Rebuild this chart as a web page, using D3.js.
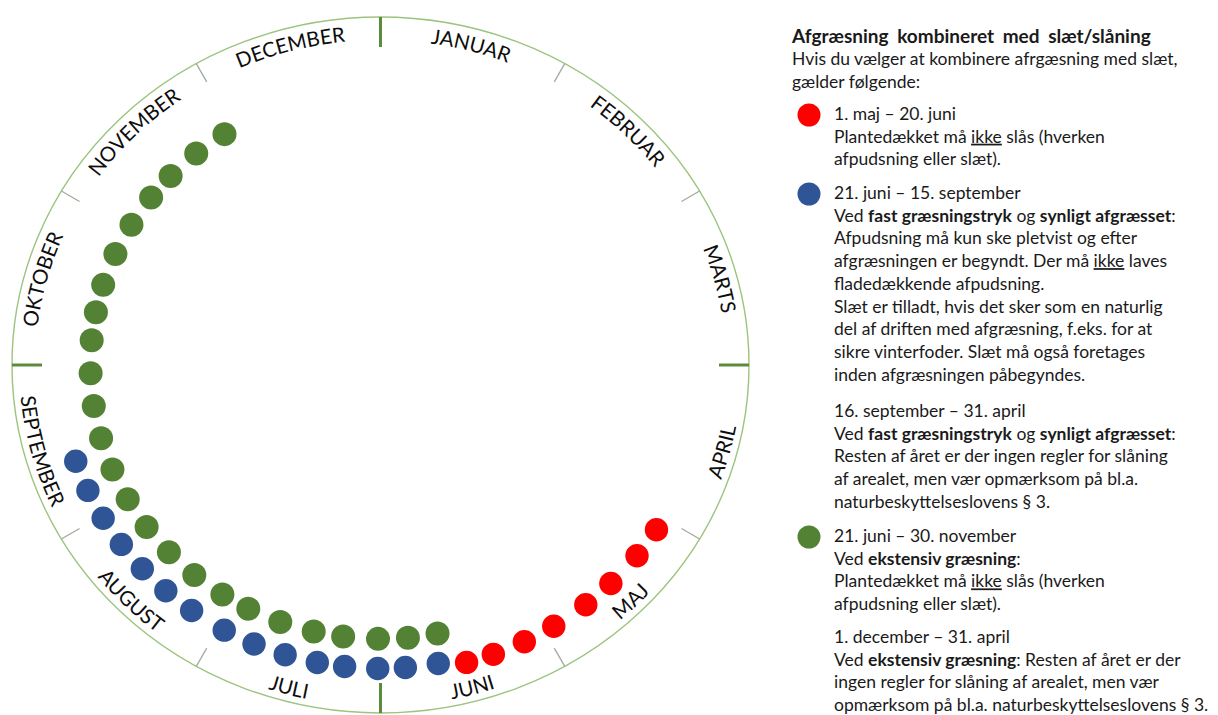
<!DOCTYPE html>
<html>
<head>
<meta charset="utf-8">
<script src="https://cdn.jsdelivr.net/npm/d3@7"></script>
<style>
  body { margin: 0; background: #fff; }
  svg { display: block; font-family: Lato, "Open Sans", sans-serif; }
</style>
</head>
<body>
<div id="chart"></div>
<script>
// months clockwise from the top
var months = ["JANUAR", "FEBRUAR", "MARTS", "APRIL", "MAJ", "JUNI",
              "JULI", "AUGUST", "SEPTEMBER", "OKTOBER", "NOVEMBER", "DECEMBER"];

// day of year for each dot
var redDays   = [124, 130, 137, 143, 150, 156, 162, 167];
var blueDays  = [172, 178, 183, 189, 194, 200, 206, 212, 219, 225, 231, 237, 243, 249, 255];
var greenDays = [171, 177, 183, 190, 196, 203, 210, 216, 223, 230, 237, 244, 251, 258, 265,
                 272, 279, 285, 291, 298, 305, 312, 318, 325, 332];

var legendTitle = "Afgræsning kombineret med slæt/slåning";
var legendIntro = ["Hvis du vælger at kombinere afrgæsning med slæt,", "gælder følgende:"];

var redText = ["1. maj – 20. juni",
               "Plantedækket må __ikke__ slås (hverken",
               "afpudsning eller slæt)."];
var blueText = ["21. juni – 15. september",
                "Ved **fast græsningstryk** og **synligt afgræsset**:",
                "Afpudsning må kun ske pletvist og efter",
                "afgræsningen er begyndt. Der må __ikke__ laves",
                "fladedækkende afpudsning.",
                "Slæt er tilladt, hvis det sker som en naturlig",
                "del af driften med afgræsning, f.eks. for at",
                "sikre vinterfoder. Slæt må også foretages",
                "inden afgræsningen påbegyndes."];
var blueRestText = ["16. september – 31. april",
                    "Ved **fast græsningstryk** og **synligt afgræsset**:",
                    "Resten af året er der ingen regler for slåning",
                    "af arealet, men vær opmærksom på bl.a.",
                    "naturbeskyttelseslovens § 3."];
var greenText = ["21. juni – 30. november",
                 "Ved **ekstensiv græsning**:",
                 "Plantedækket må __ikke__ slås (hverken",
                 "afpudsning eller slæt)."];
var greenRestText = ["1. december – 31. april",
                     "Ved **ekstensiv græsning**: Resten af året er der",
                     "ingen regler for slåning af arealet, men vær",
                     "opmærksom på bl.a. naturbeskyttelseslovens § 3."];

function init() {
    var width = 1218, height = 715;
    var svg = d3.select("#chart").append("svg")
        .attr("width", width)
        .attr("height", height);

    drawWheel(svg);
    drawLegend(svg);
}

function drawWheel(svg) {
    var cx = 380.5, cy = 365, rx = 368.5, ry = 348;

    var dayAngle = d3.scaleLinear().domain([0, 365]).range([0, 2 * Math.PI]);
    var monthAngle = d3.scaleLinear().domain([0, 12]).range([0, 2 * Math.PI]);

    // point on the (slightly squashed) wheel, inset px from the rim, or scaled by k
    function pt(a, inset, k) {
        k = k || 1;
        return [cx + (rx * k - inset) * Math.sin(a), cy - (ry * k - inset) * Math.cos(a)];
    }

    var g = svg.append("g");

    g.append("ellipse")
        .attr("cx", cx).attr("cy", cy)
        .attr("rx", rx).attr("ry", ry)
        .attr("fill", "none")
        .attr("stroke", "#9cc47e")
        .attr("stroke-width", 1.4);

    // month ticks
    g.selectAll("line.tick")
        .data(d3.range(12))
        .enter()
        .append("line")
        .attr("class", "tick")
        .each(function(i) {
            var major = i % 3 == 0;
            var a = monthAngle(i);
            var p0 = pt(a, 0), p1 = pt(a, major ? 30 : 21);
            d3.select(this)
                .attr("x1", p0[0]).attr("y1", p0[1])
                .attr("x2", p1[0]).attr("y2", p1[1])
                .attr("stroke", major ? "#5b8c3c" : "#a3aa9c")
                .attr("stroke-width", major ? 3 : 1.3);
        });

    // month labels along the rim
    var defs = svg.append("defs");
    months.forEach(function(m, i) {
        var a0 = monthAngle(i), a1 = monthAngle(i + 1);
        var mid = (a0 + a1) / 2;
        var upper = Math.cos(mid) > 0;
        var inset = upper ? 23 : 7;
        var rxi = rx - inset, ryi = ry - inset;
        var s, e, d;
        if (upper) {
            s = pt(a0, inset); e = pt(a1, inset);
            d = "M" + s + " A" + rxi + "," + ryi + " 0 0 1 " + e;
        } else {
            s = pt(a1, inset); e = pt(a0, inset);
            d = "M" + s + " A" + rxi + "," + ryi + " 0 0 0 " + e;
        }
        defs.append("path").attr("id", "mp" + i).attr("d", d);
        g.append("text")
            .attr("font-size", 20.5)
            .attr("fill", "#0d0d0d")
            .append("textPath")
            .attr("href", "#mp" + i)
            .attr("startOffset", "50%")
            .attr("text-anchor", "middle")
            .text(m);
    });

    // dots
    var series = [
        { days: greenDays, ring: 0.787, r: 12, color: "#548235" },
        { days: blueDays, ring: 0.872, r: 11.7, color: "#2f5597" },
        { days: redDays, ring: 0.886, r: 11.7, color: "#ff0000" }
    ];
    series.forEach(function(s) {
        g.selectAll(null)
            .data(s.days)
            .enter()
            .append("circle")
            .attr("cx", function(d) { return pt(dayAngle(d), 0, s.ring)[0]; })
            .attr("cy", function(d) { return pt(dayAngle(d), 0, s.ring)[1]; })
            .attr("r", s.r)
            .attr("fill", s.color);
    });
}

function addRich(textSel, line) {
    // **bold** and __underline__
    var parts = line.split(/(\*\*[^*]+\*\*|__[^_]+__)/);
    parts.forEach(function(p) {
        if (!p) return;
        var t = textSel.append("tspan");
        if (p.indexOf("**") == 0) {
            t.text(p.slice(2, -2)).attr("font-weight", "bold");
        } else if (p.indexOf("__") == 0) {
            t.text(p.slice(2, -2)).style("text-decoration", "underline");
        } else {
            t.text(p);
        }
    });
}

function drawLegend(svg) {
    var lx = 792, tx = 834, lh = 22.7, fs = 17.5;
    var lg = svg.append("g").attr("fill", "#1a1a1a");

    lg.append("text")
        .attr("x", lx).attr("y", 43)
        .attr("font-size", 19)
        .attr("font-weight", "bold")
        .attr("word-spacing", 4)
        .text(legendTitle);

    legendIntro.forEach(function(l, i) {
        lg.append("text")
            .attr("x", lx).attr("y", 65 + i * 22.5)
            .attr("font-size", fs)
            .text(l);
    });

    var blocks = [
        { lines: redText, y: 120, dot: "#ff0000" },
        { lines: blueText, y: 199, dot: "#2f5597" },
        { lines: blueRestText, y: 417, dot: null },
        { lines: greenText, y: 542, dot: "#548235" },
        { lines: greenRestText, y: 643, dot: null }
    ];

    blocks.forEach(function(b) {
        if (b.dot) {
            lg.append("circle")
                .attr("cx", 809).attr("cy", b.y - 5)
                .attr("r", 11.5)
                .attr("fill", b.dot);
        }
        b.lines.forEach(function(l, i) {
            var t = lg.append("text")
                .attr("x", tx).attr("y", b.y + i * lh)
                .attr("font-size", fs);
            addRich(t, l);
        });
    });
}

init();
</script>
</body>
</html>
